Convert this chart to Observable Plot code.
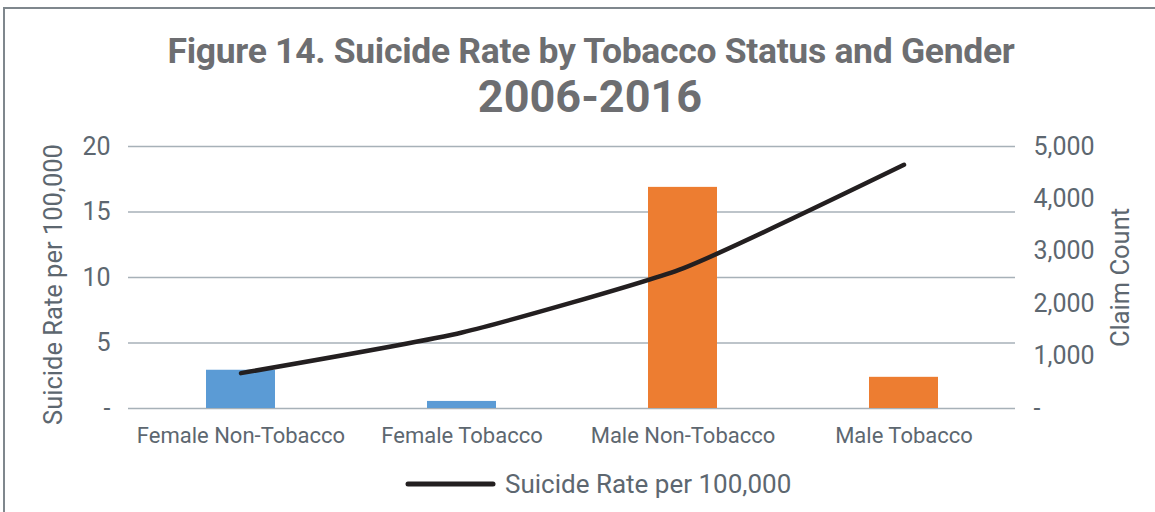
<!DOCTYPE html>
<html>
<head>
<meta charset="utf-8">
<script src="https://cdn.jsdelivr.net/npm/d3@7"></script>
<script src="https://cdn.jsdelivr.net/npm/@observablehq/plot@0.6"></script>
<style>
  body { margin: 0; background: #fff; }
  #wrap { position: relative; width: 1155px; height: 512px; overflow: hidden; font-family: Roboto, "Noto Sans", sans-serif; }
  #frame { position: absolute; left: 3px; top: 7px; width: 1200px; height: 600px; border: 2px solid #7f878d; box-sizing: border-box; }
  #title { position: absolute; left: 0; width: 1182px; top: 30px; text-align: center; font-size: 35.5px; font-weight: 700; color: #6d6e71; line-height: 1.2; letter-spacing: -0.3px; }
  #subtitle { position: absolute; left: 0; width: 1180px; top: 70px; text-align: center; font-size: 45px; font-weight: 700; color: #6d6e71; }
  #chart { position: absolute; left: 0; top: 0; }
  #legend { position: absolute; top: 469px; left: 405px; display: flex; align-items: center; font-size: 26px; color: #5d6770; }
  #legend svg { margin-right: 8px; }
</style>
</head>
<body>
<div id="wrap">
  <div id="frame"></div>
  <div id="chart"></div>
  <div id="title">Figure 14. Suicide Rate by Tobacco Status and Gender</div>
  <div id="subtitle">2006-2016</div>
  <div id="legend"><svg width="92" height="10"><line x1="3" y1="5" x2="88" y2="5" stroke="#231f20" stroke-width="5" stroke-linecap="round"/></svg><span>Suicide Rate per 100,000</span></div>
</div>
<script>
const categories = ["Female Non-Tobacco", "Female Tobacco", "Male Non-Tobacco", "Male Tobacco"];
const claimCounts = [730, 135, 4220, 595];
const suicideRates = [2.7, 5.8, 10.7, 18.6];
const barColors = ["#5b9bd5", "#5b9bd5", "#ed7d31", "#ed7d31"];
const leftTicks = [0, 5, 10, 15, 20];
const leftTickLabels = ["-", "5", "10", "15", "20"];
const rightTicks = [0, 1000, 2000, 3000, 4000, 5000];
const rightTickLabels = ["-", "1,000", "2,000", "3,000", "4,000", "5,000"];
const rateMax = 20, claimMax = 5000;
const ratio = rateMax / claimMax;

const data = categories.map((c, i) => ({category: c, claims: claimCounts[i], rate: suicideRates[i], color: barColors[i]}));
const textColor = "#5d6770";

const chart = Plot.plot({
  width: 1155,
  height: 512,
  marginTop: 146,
  marginBottom: 104,
  marginLeft: 128,
  marginRight: 140,
  style: {fontFamily: "Roboto, 'Noto Sans', sans-serif", color: textColor, background: "transparent"},
  x: {domain: categories, paddingInner: 0.69, paddingOuter: 0.345, label: null},
  y: {domain: [0, rateMax], label: null},
  marks: [
    Plot.gridY(leftTicks, {stroke: "#a7b1b8", strokeOpacity: 1, strokeWidth: 1.6}),
    Plot.barY(data, {x: "category", y: d => d.claims * ratio, fill: "color"}),
    Plot.line(data, {x: "category", y: "rate", stroke: "#231f20", strokeWidth: 4.5, curve: d3.curveCardinal.tension(0.5)}),
    Plot.axisX({tickSize: 0, tickPadding: 19, fontSize: 22, label: null}),
    Plot.axisY(leftTicks, {anchor: "left", tickSize: 0, tickPadding: 18, fontSize: 25, tickFormat: d => leftTickLabels[leftTicks.indexOf(d)], label: null}),
    Plot.axisY(rightTicks.map(v => v * ratio), {anchor: "right", tickSize: 0, tickPadding: 18, fontSize: 25, textAnchor: "start", tickFormat: d => rightTickLabels[rightTicks.indexOf(Math.round(d / ratio))], label: null}),
    Plot.text(["Suicide Rate per 100,000"], {frameAnchor: "left", textAnchor: "middle", dx: -75, dy: 7, rotate: -90, fontSize: 25.5, fill: textColor}),
    Plot.text(["Claim Count"], {frameAnchor: "right", textAnchor: "middle", dx: 105, rotate: -90, fontSize: 25.5, fill: textColor})
  ]
});
document.getElementById("chart").appendChild(chart);
</script>
</body>
</html>
